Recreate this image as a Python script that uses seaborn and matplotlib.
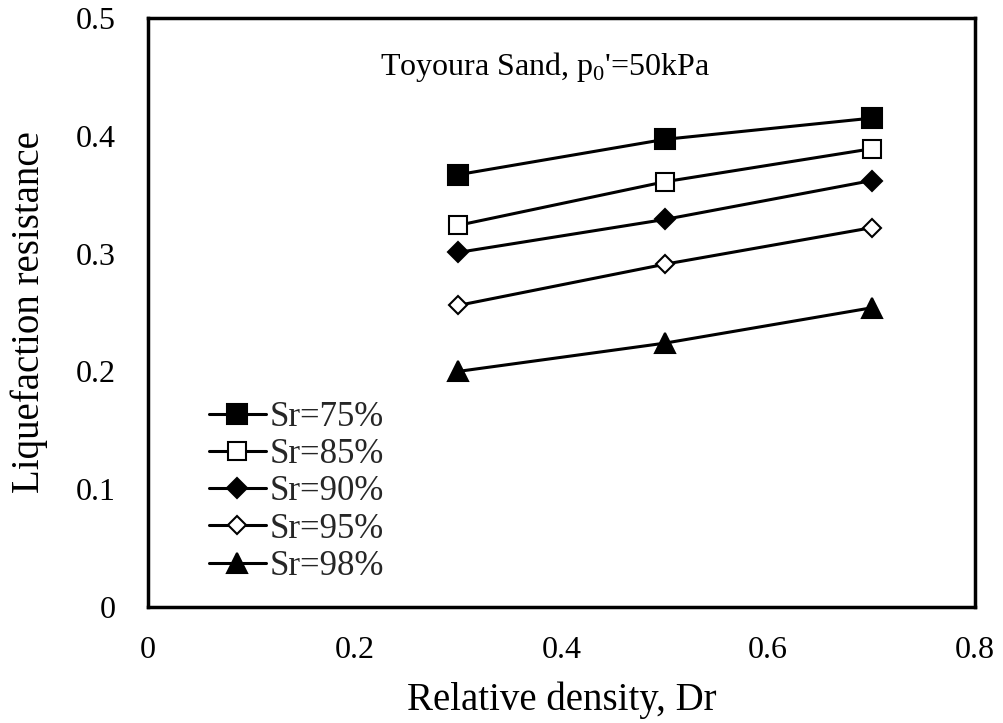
import matplotlib
matplotlib.use("Agg")
import matplotlib.pyplot as plt
import seaborn as sns
import pandas as pd

dr = [0.3, 0.5, 0.7]
sr75 = [0.367, 0.397, 0.415]
sr85 = [0.324, 0.361, 0.389]
sr90 = [0.301, 0.329, 0.362]
sr95 = [0.256, 0.291, 0.322]
sr98 = [0.200, 0.224, 0.254]
labels = ["Sr=75%", "Sr=85%", "Sr=90%", "Sr=95%", "Sr=98%"]
series = [sr75, sr85, sr90, sr95, sr98]

sns.set_theme(style="white")
plt.rcParams['font.family'] = ['Liberation Serif', 'DejaVu Serif']
plt.rcParams['mathtext.fontset'] = 'custom'
plt.rcParams['mathtext.rm'] = 'Liberation Serif'

fig = plt.figure(figsize=(10.04, 7.23), dpi=100)
ax = fig.add_axes([0.1474, 0.1604, 0.8237, 0.8147])

styles = [
    dict(marker="s", markerfacecolor="black", markersize=14),
    dict(marker="s", markerfacecolor="white", markersize=13),
    dict(marker="D", markerfacecolor="black", markersize=10),
    dict(marker="D", markerfacecolor="white", markersize=9),
    dict(marker="^", markerfacecolor="black", markersize=15),
]

for lab, vals, st in zip(labels, series, styles):
    df = pd.DataFrame({"Dr": dr, "R": vals})
    sns.lineplot(data=df, x="Dr", y="R", ax=ax, color="black", linewidth=2.2,
                 markeredgecolor="black", markeredgewidth=1.5, label=lab, **st)

ax.set_xlim(0, 0.8)
ax.set_ylim(0, 0.5)
ax.set_xticks([0, 0.2, 0.4, 0.6, 0.8])
ax.set_xticklabels(["0", "0.2", "0.4", "0.6", "0.8"])
ax.set_yticks([0, 0.1, 0.2, 0.3, 0.4, 0.5])
ax.set_yticklabels(["0", "0.1", "0.2", "0.3", "0.4", "0.5"])
ax.tick_params(direction="in", length=6, width=1.5, labelsize=23, colors="black")
ax.tick_params(axis="y", pad=23)
ax.tick_params(axis="x", pad=21)
for s in ax.spines.values():
    s.set_color("black")
    s.set_linewidth(2.5)
ax.set_xlabel("Relative density, Dr", fontsize=28, color="black", labelpad=12)
ax.set_ylabel("Liquefaction resistance", fontsize=28, color="black", labelpad=20)

ax.text(0.384, 0.4516, "Toyoura Sand, p$_0$'=50kPa", fontsize=23, ha="center", va="baseline", color="black")

leg = ax.legend(loc="lower left", bbox_to_anchor=(0.044, 0.0), frameon=False, fontsize=25,
                handlelength=1.65, handletextpad=0.1, labelspacing=0.12, borderpad=0.2)

fig.savefig("out.png", dpi=100)
